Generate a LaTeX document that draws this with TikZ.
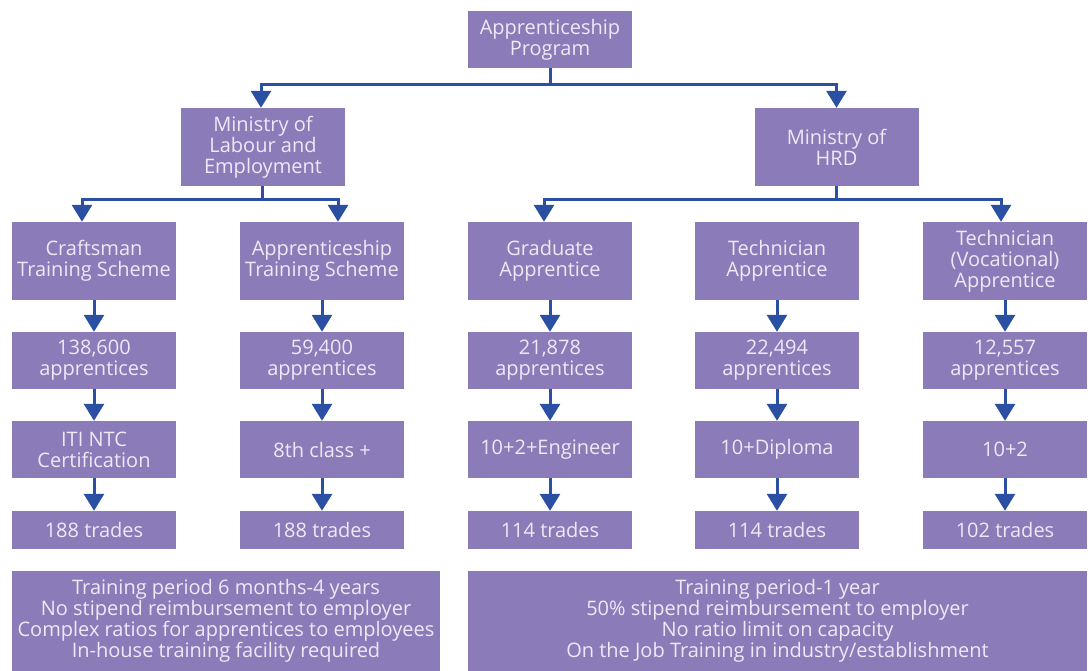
\documentclass[tikz,border=0pt]{standalone}
\usepackage{fontspec}
\setmainfont{Open Sans}
\usetikzlibrary{arrows.meta}
\definecolor{boxfill}{HTML}{8B7BB8}
\definecolor{boxtext}{HTML}{EEE9F6}
\definecolor{linkblue}{HTML}{2A4FA3}
\tikzset{
  box/.style={fill=boxfill, text=boxtext, align=center, inner sep=0pt,
    font=\fontsize{20}{21}\selectfont, minimum width=164pt},
  tall/.style={box, minimum height=78pt},
  mid/.style={box, minimum height=57pt},
  low/.style={box, minimum height=38pt},
  conn/.style={draw=linkblue, line width=3pt},
  arr/.style={conn, -{Triangle[width=20pt,length=17pt]}}
}
\begin{document}
\begin{tikzpicture}[x=1pt,y=-1pt]
\useasboundingbox (0,0) rectangle (1091,671);

% top of the tree
\node[box, minimum height=57pt] (prog) at (550,39.5) {Apprenticeship\\Program};
\node[tall] (labour) at (263,147) {Ministry of\\Labour and\\Employment};
\node[tall] (hrd) at (836.5,147) {Ministry of\\HRD};

% schemes
\node[tall] (cts) at (94,261) {Craftsman\\Training Scheme};
\node[tall] (ats) at (322,261) {Apprenticeship\\Training Scheme};
\node[tall] (grad) at (550,261) {Graduate\\Apprentice};
\node[tall] (tech) at (777,261) {Technician\\Apprentice};
\node[tall] (voc) at (1005,261) {Technician\\(Vocational)\\Apprentice};

% apprentice counts
\node[mid] (n1) at (94,360.5) {138,600\\apprentices};
\node[mid] (n2) at (322,360.5) {59,400\\apprentices};
\node[mid] (n3) at (550,360.5) {21,878\\apprentices};
\node[mid] (n4) at (777,360.5) {22,494\\apprentices};
\node[mid] (n5) at (1005,360.5) {12,557\\apprentices};

% entry qualifications
\node[mid] (q1) at (94,449.5) {ITI NTC\\Certification};
\node[mid] (q2) at (322,449.5) {8th class +};
\node[mid] (q3) at (550,449.5) {10+2+Engineer};
\node[mid] (q4) at (777,449.5) {10+Diploma};
\node[mid] (q5) at (1005,449.5) {10+2};

% trades
\node[low] (t1) at (94,530) {188 trades};
\node[low] (t2) at (322,530) {188 trades};
\node[low] (t3) at (550,530) {114 trades};
\node[low] (t4) at (777,530) {114 trades};
\node[low] (t5) at (1005,530) {102 trades};

% summaries
\node[box, minimum width=428pt, minimum height=100pt] (sumL) at (226,621)
  {Training period 6 months-4 years\\No stipend reimbursement to employer\\Complex ratios for apprentices to employees\\In-house training facility required};
\node[box, minimum width=619pt, minimum height=100pt] (sumR) at (777.5,621)
  {Training period-1 year\\50\% stipend reimbursement to employer\\No ratio limit on capacity\\On the Job Training in industry/establishment};

% branch points
\coordinate (j0) at (550,85);
\coordinate (j1) at (262,199);
\coordinate (j2) at (836.5,199);

\draw[conn] (prog.south) -- (j0);
\draw[arr] (j0) -| ([xshift=-2pt]labour.north);
\draw[arr] (j0) -| (hrd.north);

\draw[conn] (labour.south -| j1) -- (j1);
\draw[arr] (j1) -| ([xshift=-12pt]cts.north);
\draw[arr] (j1) -| ([xshift=16pt]ats.north);

\draw[conn] (hrd.south) -- (j2);
\draw[arr] (j2) -| ([xshift=-6pt]grad.north);
\draw[arr] (j2) -| ([xshift=-4pt]voc.north);

% vertical chains
\foreach \a/\b/\c/\d in {cts/n1/q1/t1, ats/n2/q2/t2, grad/n3/q3/t3, tech/n4/q4/t4, voc/n5/q5/t5}{
  \draw[arr] (\a.south) -- (\b.north);
  \draw[arr] (\b.south) -- (\c.north);
  \draw[arr] (\c.south) -- (\d.north);
}
\end{tikzpicture}
\end{document}
